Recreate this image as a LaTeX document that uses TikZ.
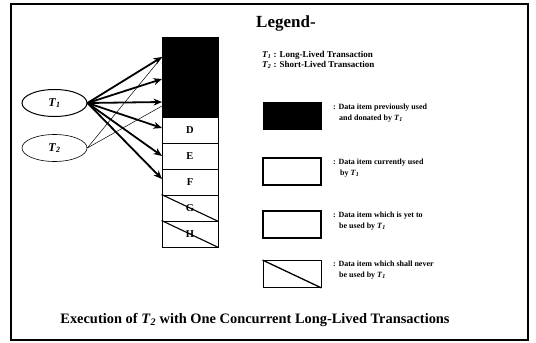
\documentclass[tikz,border=0pt]{standalone}
\usepackage{fontspec}
\setmainfont{Liberation Serif}
\usetikzlibrary{arrows.meta,shapes.geometric}
\newcommand\Tn[1]{\textbf{\textit{T}}\textsubscript{\textbf{\textit{#1}}}}
\tikzset{
  cell/.style={draw, line width=1pt, minimum width=56pt, minimum height=26pt,
    inner sep=0pt, font=\fontsize{10.5}{12}\selectfont\bfseries},
  trans/.style={draw, ellipse, minimum width=65pt, minimum height=27pt,
    inner sep=0pt, font=\fontsize{12}{14}\selectfont},
  use/.style={line width=1.8pt, -{Stealth[length=8.5pt,width=7pt]}},
  share/.style={line width=0.5pt},
  keybox/.style={draw, minimum width=58pt, minimum height=27pt, inner sep=0pt},
  keytext/.style={anchor=base west, inner sep=0pt,
    font=\fontsize{8}{9}\selectfont\bfseries},
  heading/.style={anchor=base west, inner sep=0pt,
    font=\fontsize{9}{10}\selectfont\bfseries},
}
\begin{document}
\begin{tikzpicture}[x=1pt,y=-1pt]
\useasboundingbox (0,0) rectangle (536,343);
% outer frame
\draw[line width=1.3pt] (11,4) rectangle (528,340);

% data item stack
\node[cell, fill=black, minimum height=80pt] (blk) at (190,77) {};
\node[cell] (D) at (190,130) {D};
\node[cell] (E) at (190,156) {E};
\node[cell] (F) at (190,182) {F};
\node[cell] (G) at (190,208) {G};
\node[cell] (H) at (190,234) {H};
\draw[line width=1.1pt] (G.north west) -- (G.south east);
\draw[line width=1.1pt] (H.north west) -- (H.south east);

% transactions
\node[trans, line width=1pt] (T1) at (54.5,103) {\Tn{1}};
\node[trans, line width=0.6pt] (T2) at (54.5,148) {\Tn{2}};

% entry points on the stack
\coordinate (a1) at (162,57);
\coordinate (a2) at (162,79);
\coordinate (a3) at (162,102);
\coordinate (a4) at (162,128);
\coordinate (a5) at (162,156);
\coordinate (a6) at (162,179);
\coordinate (b2) at (162,106);

\draw[share] (T2.east) -- (a1);
\draw[share] (T2.east) -- (b2);
\foreach \p in {a1,a2,a3,a4,a5,a6}
  \draw[use] (T1.east) -- (\p);

% legend
\node[anchor=base west, inner sep=0pt, font=\fontsize{17}{20}\selectfont\bfseries]
  (leg) at (256,27) {Legend-};
\node[heading] (k1) at (262,57) {\Tn{1} : Long-Lived Transaction};
\node[heading] (k2) at (262,67.5) {\Tn{2} : Short-Lived Transaction};

\node[keybox, fill=black] (kb1) at (292,116) {};
\node[keytext] (t1a) at (333,109) {: Data item previously used};
\node[keytext] (t1b) at (339,120) {and donated by \Tn{1}};

\node[keybox, line width=1.6pt] (kb2) at (292,171.5) {};
\node[keytext] (t2a) at (333,164) {: Data item currently used};
\node[keytext] (t2b) at (340,175) {by \Tn{1}};

\node[keybox, line width=1.1pt] (kb3) at (292,224.5) {};
\node[keytext] (t3a) at (333,217) {: Data item which is yet to};
\node[keytext] (t3b) at (339,228) {be used by \Tn{1}};

\node[keybox, line width=0.8pt] (kb4) at (292,274) {};
\draw[line width=1.3pt] (kb4.north west) -- (kb4.south east);
\node[keytext] (t4a) at (333,266) {: Data item which shall never};
\node[keytext] (t4b) at (339,277) {be used by \Tn{1}};

% caption
\node[anchor=base, inner sep=0pt, font=\fontsize{14.4}{16}\selectfont\bfseries]
  (cap) at (255,323) {Execution of \Tn{2} with One Concurrent Long-Lived Transactions};
\end{tikzpicture}
\end{document}
